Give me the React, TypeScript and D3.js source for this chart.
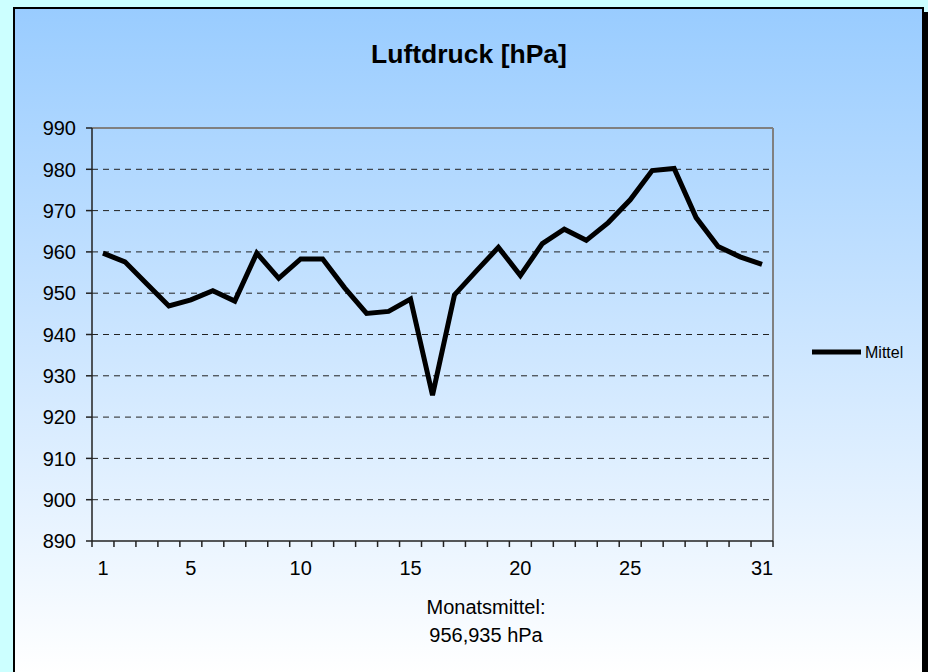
import React from "react";
import * as d3 from "d3";

const days: number[] = d3.range(1, 32);
const pressure: number[] = [
  959.7, 957.6, 952.2, 946.9, 948.4, 950.6, 948.1, 959.7, 953.6, 958.3,
  958.3, 951.3, 945.1, 945.6, 948.6, 925.3, 949.6, 955.4, 961.1, 954.3,
  962.0, 965.5, 962.8, 967.1, 972.6, 979.7, 980.2, 968.3, 961.3, 958.8,
  957.0,
];
const yTicks: number[] = d3.range(890, 1000, 10);
const xTickLabels: number[] = [1, 5, 10, 15, 20, 25, 31];
const title = "Luftdruck [hPa]";
const seriesName = "Mittel";
const footer = ["Monatsmittel:", "956,935 hPa"];

export default function App() {
  const W = 928, H = 672;
  const left = 92, right = 773, top = 128, bottom = 541;
  const x = d3.scaleBand<number>().domain(days).range([left, right]);
  const y = d3.scaleLinear().domain([890, 990]).range([bottom, top]);
  const cx = (d: number) => (x(d) as number) + x.bandwidth() / 2;
  const line = d3.line<number>().x((_, i) => cx(days[i])).y((v) => y(v));
  const font = "Liberation Sans, Arial, sans-serif";
  const boundaries = d3.range(0, days.length + 1).map((i) => left + i * x.step());
  return (
    <svg width={W} height={H} style={{ position: "absolute", left: 0, top: 0 }}>
      <defs>
        <linearGradient id="bg" x1="0" y1="0" x2="0" y2="1">
          <stop offset="0" stopColor="#99ccff" />
          <stop offset="1" stopColor="#ffffff" />
        </linearGradient>
      </defs>
      <rect x={0} y={0} width={W} height={H} fill="#ccffff" />
      <rect x={18} y={12} width={910} height={700} fill="#000" />
      <rect x={14} y={8} width={909} height={666} fill="url(#bg)" stroke="#000" strokeWidth={2} />
      <text x={469} y={63} textAnchor="middle" fontFamily={font} fontWeight="bold" fontSize={26.5}>{title}</text>
      {yTicks.slice(1, -1).map((t) => (
        <line key={t} x1={left} x2={right} y1={y(t)} y2={y(t)} stroke="#222" strokeWidth={1} strokeDasharray="6,5" />
      ))}
      <line x1={left} x2={right} y1={top} y2={top} stroke="#808080" strokeWidth={2} />
      <line x1={right} x2={right} y1={top} y2={bottom} stroke="#808080" strokeWidth={2} />
      <line x1={left} x2={left} y1={top} y2={bottom} stroke="#222" strokeWidth={1.5} />
      <line x1={left} x2={right} y1={bottom} y2={bottom} stroke="#222" strokeWidth={1.5} />
      {yTicks.map((t) => (
        <g key={t}>
          <line x1={left - 6} x2={left} y1={y(t)} y2={y(t)} stroke="#222" strokeWidth={1.5} />
          <text x={left - 16} y={y(t)} dy="0.36em" textAnchor="end" fontFamily={font} fontSize={20}>{t}</text>
        </g>
      ))}
      {boundaries.map((b, i) => (
        <line key={i} x1={b} x2={b} y1={bottom} y2={bottom + 6} stroke="#222" strokeWidth={1.5} />
      ))}
      {xTickLabels.map((d) => (
        <text key={d} x={cx(d)} y={bottom + 34} textAnchor="middle" fontFamily={font} fontSize={20}>{d}</text>
      ))}
      <path d={line(pressure) || ""} fill="none" stroke="#000" strokeWidth={5} strokeLinejoin="miter" />
      <text x={486} y={614} textAnchor="middle" fontFamily={font} fontSize={20}>{footer[0]}</text>
      <text x={486} y={642} textAnchor="middle" fontFamily={font} fontSize={20}>{footer[1]}</text>
      <line x1={812} x2={861} y1={352} y2={352} stroke="#000" strokeWidth={5} />
      <text x={865} y={352} dy="0.36em" fontFamily={font} fontSize={16}>{seriesName}</text>
    </svg>
  );
}
